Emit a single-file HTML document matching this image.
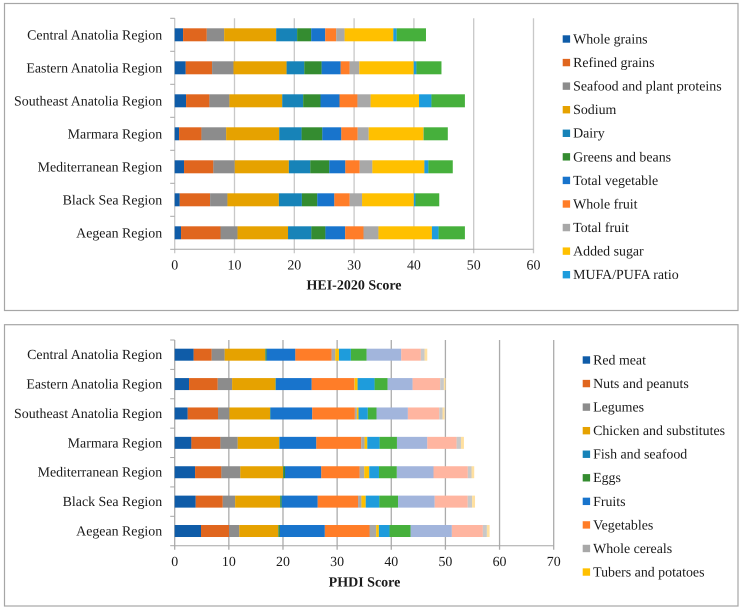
<!DOCTYPE html>
<html>
<head>
<meta charset="utf-8">
<title>HEI-2020 and PHDI scores by region</title>
<style>
html,body{margin:0;padding:0;background:#fff;width:742px;height:611px;overflow:hidden}
svg{display:block}
text{font-family:"Liberation Serif",serif;fill:#1a1a1a;text-rendering:geometricPrecision}
</style>
</head>
<body>
<svg id="figure" width="742" height="611" viewBox="0 0 742 611" xmlns="http://www.w3.org/2000/svg"></svg>
<script>
const regions = ["Central Anatolia Region","Eastern Anatolia Region","Southeast Anatolia Region","Marmara Region","Mediterranean Region","Black Sea Region","Aegean Region"];

const heiLegend = ["Whole grains","Refined grains","Seafood and plant proteins","Sodium","Dairy","Greens and beans","Total vegetable","Whole fruit","Total fruit","Added sugar","MUFA/PUFA ratio"];
const heiTicks = [0,10,20,30,40,50,60];
const heiColors = ["#0f5ca8","#e0661e","#8c8c8c","#e6a200","#1783b8","#348c30","#1874cc","#ff7d28","#a8a8a8","#ffc000","#1e9cdc","#46b03c"];
const heiCentral = [1.4,3.97,2.9,8.7,3.5,2.35,2.35,1.84,1.4,8.15,0.56,4.9];
const heiEastern = [1.84,4.41,3.58,8.88,2.96,2.9,3.18,1.5,1.62,9.1,0.45,4.19];
const heiSoutheast = [1.9,3.9,3.35,8.83,3.5,2.9,3.18,3.0,2.2,8.1,2.07,5.6];
const heiMarmara = [0.73,3.74,4.13,8.88,3.74,3.46,3.18,2.74,1.84,9.16,0.05,4.02];
const heiMediterranean = [1.56,4.9,3.58,9.05,3.58,3.18,2.68,2.4,2.12,8.7,0.67,4.08];
const heiBlackSea = [0.84,5.08,2.9,8.6,3.85,2.57,2.85,2.57,2.07,8.66,0.28,3.97];
const heiAegean = [1.06,6.6,2.85,8.44,3.9,2.35,3.3,3.07,2.5,8.94,1.12,4.4];

const phdiLegend = ["Red meat","Nuts and peanuts","Legumes","Chicken and substitutes","Fish and seafood","Eggs","Fruits","Vegetables","Whole cereals","Tubers and potatoes"];
const phdiTicks = [0,10,20,30,40,50,60,70];
const phdiColors = ["#0f5ca8","#e0661e","#8c8c8c","#e6a200","#1783b8","#348c30","#1874cc","#ff7d28","#a8a8a8","#ffc000","#1e9cdc","#46b03c","#a2b5dc","#ffb5a0","#c8c8c8","#ffe0a0"];
const phdiCentral = [3.5,3.33,2.4,7.5,0.05,0.2,5.3,6.7,0.68,0.68,2.2,2.9,6.4,3.63,0.68,0.5];
const phdiEastern = [2.65,5.3,2.65,8.0,0.05,0.05,6.6,7.88,0.05,0.55,3.14,2.4,4.62,5.1,0.68,0.3];
const phdiSoutheast = [2.4,5.6,2.1,7.5,0.05,0.05,7.7,7.88,0.37,0.3,1.72,1.6,5.8,5.8,0.6,0.37];
const phdiMarmara = [3.08,5.36,3.2,7.64,0.05,0.05,6.77,8.3,0.62,0.5,2.28,3.2,5.6,5.42,0.8,0.55];
const phdiMediterranean = [3.76,4.86,3.5,7.9,0.05,0.3,6.7,7.08,0.86,0.92,1.8,3.3,6.77,6.34,0.68,0.5];
const phdiBlackSea = [3.88,5.0,2.28,8.3,0.05,0.25,6.65,7.45,0.62,0.8,2.52,3.45,6.77,6.1,0.8,0.55];
const phdiAegean = [4.86,5.17,1.9,7.2,0.05,0.25,8.3,8.25,1.23,0.5,1.97,3.88,7.63,5.73,0.74,0.5];

const heiRows = [heiCentral,heiEastern,heiSoutheast,heiMarmara,heiMediterranean,heiBlackSea,heiAegean];
const phdiRows = [phdiCentral,phdiEastern,phdiSoutheast,phdiMarmara,phdiMediterranean,phdiBlackSea,phdiAegean];

const NS = "http://www.w3.org/2000/svg";
const root = document.getElementById("figure");

function shape(parent, tag, attrs) {
  const el = document.createElementNS(NS, tag);
  for (const k in attrs) el.setAttribute(k, attrs[k]);
  parent.appendChild(el);
  return el;
}

function drawChart(cfg) {
  const panel = shape(root, "rect", {x:cfg.box[0], y:cfg.box[1], width:cfg.box[2], height:cfg.box[3], fill:"#fff", stroke:"#a6a6a6", "stroke-width":1.2});
  
  

  const g = shape(root, "g", {});
  
  

  const maxTick = cfg.ticks[cfg.ticks.length - 1];
  const xScale = v => cfg.x0 + v * (cfg.x1 - cfg.x0) / maxTick;
  const bandH = (cfg.y1 - cfg.y0) / regions.length;
  const yScale = i => cfg.y0 + bandH * (i + 0.5);

  cfg.ticks.forEach(t => {
    const grid = shape(g, "line", {x1:xScale(t), x2:xScale(t), y1:cfg.y0, y2:cfg.y1 + 4, stroke:cfg.gridColor, "stroke-width":1.3});
    
    
    const label = shape(g, "text", {x:xScale(t), y:cfg.y1 + cfg.tickDy, "text-anchor":"middle", "font-size":cfg.fontSize});
    label.textContent = t;
    
    
  });

  for (let i = 0; i <= regions.length; i++) {
    const tick = shape(g, "line", {x1:cfg.x0 - 4.5, x2:cfg.x0, y1:cfg.y0 + bandH * i, y2:cfg.y0 + bandH * i, stroke:"#a6a6a6", "stroke-width":1});
    
    
  }
  const xAxis = shape(g, "line", {x1:cfg.x0, x2:cfg.x1, y1:cfg.y1, y2:cfg.y1, stroke:"#a6a6a6", "stroke-width":1});
  
  

  regions.forEach((name, i) => {
    const label = shape(g, "text", {x:cfg.x0 - 12.5, y:yScale(i) + 4.5, "text-anchor":"end", "font-size":cfg.fontSize});
    label.textContent = name;
    
    
    let sum = 0;
    cfg.rows[i].forEach((v, s) => {
      const seg = shape(g, "rect", {x:xScale(sum), y:yScale(i) - cfg.barH / 2, width:xScale(sum + v) - xScale(sum), height:cfg.barH, fill:cfg.colors[s]});
      
      
      sum += v;
    });
  });

  const title = shape(g, "text", {x:cfg.titleX, y:cfg.titleY, "text-anchor":"middle", "font-size":14, "font-weight":"bold"});
  title.textContent = cfg.title;
  
  

  cfg.legend.forEach((name, i) => {
    const cy = cfg.legY + cfg.legStep * i;
    const swatch = shape(g, "rect", {x:cfg.legX, y:cy - 3.7, width:7.4, height:7.4, fill:cfg.colors[i]});
    
    
    const text = shape(g, "text", {x:cfg.legX + 10.4, y:cy + 4.4, "font-size":cfg.fontSize});
    text.textContent = name;
    
    
  });
}

drawChart({
  id:"hei", box:[4.5,3.5,733.5,307], x0:174.7, x1:533.5, y0:18.3, y1:249.3, barH:13,
  ticks:heiTicks, rows:heiRows, colors:heiColors, legend:heiLegend, gridColor:"#c8c8c8", tickDy:20,
  title:"HEI-2020 Score", titleX:354, titleY:289.5, legX:562.7, legY:39, legStep:23.57, fontSize:13.9
});
drawChart({
  id:"phdi", box:[4.5,324.7,733.5,281.3], x0:174.7, x1:553.7, y0:340, y1:545.7, barH:12,
  ticks:phdiTicks, rows:phdiRows, colors:phdiColors, legend:phdiLegend, gridColor:"#ababab", tickDy:20.5,
  title:"PHDI Score", titleX:364.5, titleY:586.5, legX:582.7, legY:360, legStep:23.56, fontSize:13.9
});
</script>
</body>
</html>
